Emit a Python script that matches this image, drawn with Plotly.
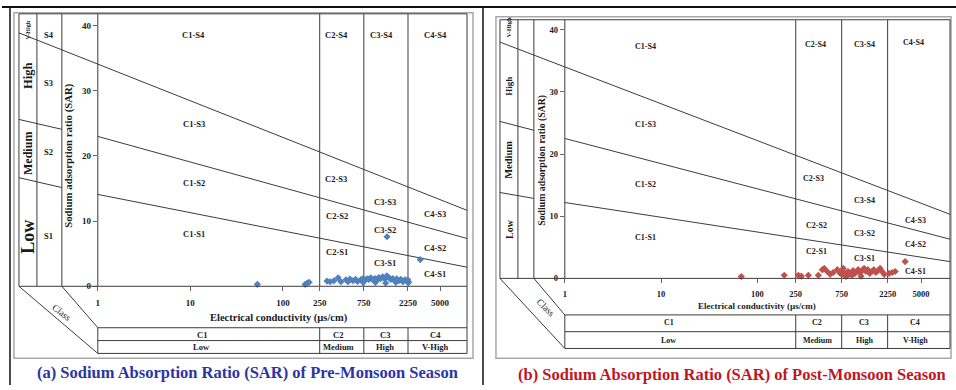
import math
import plotly.graph_objects as go

W, H = 956, 390
SERIF = "Liberation Serif"

# ---------------- data ----------------
ec_ticks = [1, 10, 100, 250, 750, 2250, 5000]
ec_tick_text = ["1", "10", "100", "250", "750", "2250", "5000"]
sar_ticks = [0, 10, 20, 30, 40]

ec_class_breaks = [250, 750, 2250]
ec_classes = ["C1", "C2", "C3", "C4"]
ec_class_names = ["Low", "Medium", "High", "V-High"]
sar_classes = ["S1", "S2", "S3", "S4"]
sar_class_names = ["Low", "Medium", "High", "V-High"]

# S1/S2, S2/S3, S3/S4 boundaries: SAR at EC = 1 and EC = 10000
boundary_ec = [1, 10000]
pre_boundary_sar = [[14.1, 2.9], [23.0, 7.3], [34.1, 11.6]]
post_boundary_sar = [[12.2, 2.7], [22.5, 6.3], [34.0, 10.3]]

pre_ec = [53, 174, 183, 192, 300, 325, 356, 395, 424, 480, 505, 530, 570, 610,
          640, 695, 735, 735, 770, 810, 850, 890, 935, 985, 1000, 1030, 1085,
          1140, 1200, 1260, 1290, 1330, 1400, 1470, 1540, 1620, 1660, 1700,
          1790, 1880, 1980, 2080, 2180, 2240, 2290, 1334, 3048]
pre_sar = [0.3, 0.3, 0.5, 0.6, 0.8, 0.7, 0.85, 1.3, 0.7, 1.0, 0.7, 1.1, 0.85, 1.05,
           0.75, 1.0, 1.2, 0.6, 0.9, 1.15, 1.05, 1.3, 1.0, 1.2, 0.6, 0.9, 1.35,
           1.15, 1.45, 1.15, 0.5, 1.6, 1.3, 1.05, 1.2, 0.9, 0.6, 1.15,
           0.85, 1.05, 0.7, 1.0, 0.75, 1.0, 0.6, 7.6, 4.1]

post_ec = [68, 190, 266, 286, 338, 429, 472, 495, 531, 570, 612, 675, 725, 760,
           778, 800, 833, 833, 873, 895, 940, 960, 985, 1030, 1080, 1110, 1160,
           1190, 1220, 1280, 1340, 1400, 1470, 1540, 1620, 1700, 1790, 1880,
           1970, 2070, 2330, 2510, 2700, 3420]
post_sar = [0.3, 0.5, 0.5, 0.35, 0.5, 0.5, 1.4, 1.6, 1.1, 0.65, 0.95, 1.4, 0.8, 1.1,
            1.6, 0.5, 0.8, 0.3, 1.1, 0.65, 0.95, 0.5, 1.25, 0.8, 1.1, 1.4, 0.95,
            0.35, 1.25, 1.6, 1.1, 1.4, 0.8, 1.1, 1.4, 0.95, 1.25, 1.6,
            1.1, 0.65, 0.8, 0.95, 1.1, 2.7]

# ---------------- panel geometry (pixels) ----------------
panels = [
    dict(name="pre", xa="x", ya="y", ec=pre_ec, sar=pre_sar, bounds=pre_boundary_sar,
         color="#4F81BD", ax_l=96, ax_r=466, ax_t=14, ax_b=290, log_max=3.99,
         px_per_sar=6.6, cols=[17, 35, 60], table=[332, 345, 358],
         frame=(12, 13, 472, 363), standoff=4,
         side_segments=[((17, 121), (60, 131)), ((17, 180), (60, 190))],
         side_labels=[("V-High", 30, 6), ("High", 77, 12.5), ("Medium", 155, 12), ("Low", 240, 18)],
         s_labels=[(47, 239), (47, 154), (47, 84), (47, 35)],
         sar_title=(67, 157, 10.8), ec_title=(278, 322, 10.5),
         class_lbl=(60, 317, 38), table_x=[200, 337, 384, 434], table_y=[339, 352],
         region_size=8.5, tick_size=9,
         regions=[("C1-S4", 192, 35), ("C2-S4", 335, 35), ("C3-S4", 380, 35), ("C4-S4", 434, 35),
                  ("C1-S3", 192, 126), ("C1-S2", 192, 185), ("C2-S3", 335, 181),
                  ("C1-S1", 192, 237), ("C2-S2", 336, 219), ("C2-S1", 336, 255),
                  ("C3-S3", 384, 205), ("C3-S2", 384, 233), ("C3-S1", 384, 266),
                  ("C4-S3", 434, 217), ("C4-S2", 434, 251), ("C4-S1", 434, 278)],
         title="(a) Sodium Absorption Ratio (SAR) of Pre-Monsoon Season",
         title_pos=(246, 377), title_color="#2B35A6"),
    dict(name="post", xa="x2", ya="y2", ec=post_ec, sar=post_sar, bounds=post_boundary_sar,
         color="#C0504D", ax_l=564, ax_r=950, ax_t=20, ax_b=282, log_max=4.0,
         px_per_sar=6.3, cols=[499, 517, 533], table=[319, 336, 353],
         frame=(495, 17, 951, 363), standoff=3,
         side_segments=[((499, 123), (533, 132)), ((499, 195), (533, 201))],
         side_labels=[("V-High", 28, 6.5), ("High", 87, 9), ("Medium", 162, 10.5), ("Low", 232, 10)],
         s_labels=None,
         sar_title=(541, 162, 9.8), ec_title=(757, 310, 9),
         class_lbl=(545, 312, 45), table_x=[668, 817, 864, 915], table_y=[327, 345],
         region_size=8, tick_size=8.5,
         regions=[("C1-S4", 645, 47), ("C2-S4", 815, 45), ("C3-S4", 864, 45), ("C4-S4", 913, 43),
                  ("C1-S3", 645, 126), ("C1-S2", 645, 187), ("C2-S3", 813, 181),
                  ("C3-S4", 864, 203), ("C1-S1", 645, 241), ("C2-S2", 816, 228),
                  ("C3-S2", 864, 237), ("C4-S3", 915, 223), ("C2-S1", 816, 255),
                  ("C3-S1", 864, 262), ("C4-S2", 915, 248), ("C4-S1", 915, 275)],
         title="(b) Sodium Absorption Ratio (SAR) of Post-Monsoon Season",
         title_pos=(732, 379), title_color="#C0171F"),
]

LINE = "#3c3c3c"
FRAME = "#a8a8a8"
TEXT = "#1a1a1a"

shapes = []
annotations = []


def seg(x0, y0, x1, y1, color=LINE, width=1):
    shapes.append(dict(type="line", xref="paper", yref="paper",
                       x0=x0 / W, y0=1 - y0 / H, x1=x1 / W, y1=1 - y1 / H,
                       line=dict(color=color, width=width)))


def label(x, y, s, size, color=TEXT, angle=0, bold=True):
    annotations.append(dict(x=x / W, y=1 - y / H, xref="paper", yref="paper", text=s,
                            showarrow=False, textangle=angle, xanchor="center", yanchor="middle",
                            font=dict(family=SERIF, size=size, color=color,
                                      weight="bold" if bold else "normal")))


fig = go.Figure()
layout_axes = {}

for i, p in enumerate(panels):
    sar_max = (p["ax_b"] - p["ax_t"]) / p["px_per_sar"]
    span = p["ax_r"] - p["ax_l"]

    def px_x(ec, p=p, span=span):
        return p["ax_l"] + math.log10(ec) / p["log_max"] * span

    suffix = "" if i == 0 else str(i + 1)
    axis_common = dict(showgrid=False, zeroline=False, showline=False, ticks="outside",
                       ticklen=4, tickcolor="#666",
                       tickfont=dict(family=SERIF, size=p["tick_size"], color=TEXT, weight="bold"))
    layout_axes["xaxis" + suffix] = dict(
        domain=[p["ax_l"] / W, p["ax_r"] / W], type="log", range=[0, p["log_max"]],
        tickvals=ec_ticks, ticktext=ec_tick_text, anchor=p["ya"],
        ticklabelstandoff=p["standoff"], **axis_common)
    layout_axes["yaxis" + suffix] = dict(
        domain=[1 - p["ax_b"] / H, 1 - p["ax_t"] / H], range=[0, sar_max],
        tickvals=sar_ticks, anchor=p["xa"], **axis_common)

    # salinity class boundaries inside the plot
    for b in ec_class_breaks:
        fig.add_trace(go.Scatter(x=[b, b], y=[0, sar_max], mode="lines",
                                 line=dict(color=LINE, width=1), hoverinfo="skip",
                                 xaxis=p["xa"], yaxis=p["ya"]))
    # sodium hazard boundaries
    for left, right in p["bounds"]:
        fig.add_trace(go.Scatter(x=boundary_ec, y=[left, right], mode="lines",
                                 line=dict(color=LINE, width=1), hoverinfo="skip",
                                 xaxis=p["xa"], yaxis=p["ya"]))
    # samples
    fig.add_trace(go.Scatter(x=p["ec"], y=p["sar"], mode="markers", cliponaxis=False,
                             marker=dict(symbol="diamond", size=5.5, color=p["color"]),
                             xaxis=p["xa"], yaxis=p["ya"]))

    # ---- frame and side columns ----
    fx0, fy0, fx1, fy1 = p["frame"]
    shapes.append(dict(type="rect", xref="paper", yref="paper",
                       x0=fx0 / W, y0=1 - fy0 / H, x1=fx1 / W, y1=1 - fy1 / H,
                       line=dict(color=FRAME, width=1.5)))
    c0, c1, c2 = p["cols"]
    for cx in (c0, c1, c2, p["ax_l"]):
        seg(cx, p["ax_t"], cx, p["ax_b"])
    seg(c0, p["ax_t"], p["ax_r"], p["ax_t"])
    seg(c0, p["ax_b"], p["ax_r"], p["ax_b"])
    seg(p["ax_r"], p["ax_t"], p["ax_r"], p["table"][2])
    for (a, b) in p["side_segments"]:
        seg(a[0], a[1], b[0], b[1])

    # S3/S4 boundary continues across the side columns
    l3, r3 = p["bounds"][2]
    x_ext = (c0 - p["ax_l"]) / span * p["log_max"]
    sar_ext = l3 + (r3 - l3) * x_ext / math.log10(boundary_ec[1])
    y_ext = p["ax_b"] - sar_ext * p["px_per_sar"]
    seg(c0, y_ext, p["ax_l"], p["ax_b"] - l3 * p["px_per_sar"])

    # class table under the EC axis
    t0, t1, t2 = p["table"]
    for ty in (t0, t1, t2):
        seg(p["ax_l"], ty, p["ax_r"], ty)
    seg(p["ax_l"], t0, p["ax_l"], t2)
    for b in ec_class_breaks:
        seg(px_x(b), t0, px_x(b), t2)
    seg(c0, p["ax_b"], p["ax_l"], t2)
    seg(c2, p["ax_b"], p["ax_l"], t0)
    for k in range(4):
        label(p["table_x"][k], p["table_y"][0], ec_classes[k], p["region_size"])
        label(p["table_x"][k], p["table_y"][1], ec_class_names[k], p["region_size"])

    # ---- text ----
    cx_mid = (c0 + c1) / 2
    for s, yy, sz in p["side_labels"]:
        label(cx_mid, yy, s, sz, angle=-90)
    if p["s_labels"]:
        for k, (sx, sy) in enumerate(p["s_labels"]):
            label(sx, sy, sar_classes[k], 8.5)
    sx, sy, ssz = p["sar_title"]
    label(sx, sy, "Sodium adsorption ratio (SAR)", ssz, angle=-90)
    ex, ey, esz = p["ec_title"]
    label(ex, ey, "Electrical conductivity (µs/cm)", esz)
    kx, ky, kang = p["class_lbl"]
    label(kx, ky, "Class", 9.5, angle=kang, bold=False)
    for s, rx, ry in p["regions"]:
        label(rx, ry, s, p["region_size"])
    tx, ty = p["title_pos"]
    label(tx, ty, p["title"], 16.5, color=p["title_color"])

# outer page rules
seg(0, 7, W, 7, color="#111", width=2)
seg(8, 7, 8, H, color="#111", width=1.5)
seg(482, 7, 482, H, color="#111", width=1.5)

fig.update_layout(width=W, height=H, autosize=False, margin=dict(l=0, r=0, t=0, b=0),
                  paper_bgcolor="white", plot_bgcolor="rgba(0,0,0,0)", showlegend=False,
                  shapes=shapes, annotations=annotations, **layout_axes)

fig.write_html("out.html")
